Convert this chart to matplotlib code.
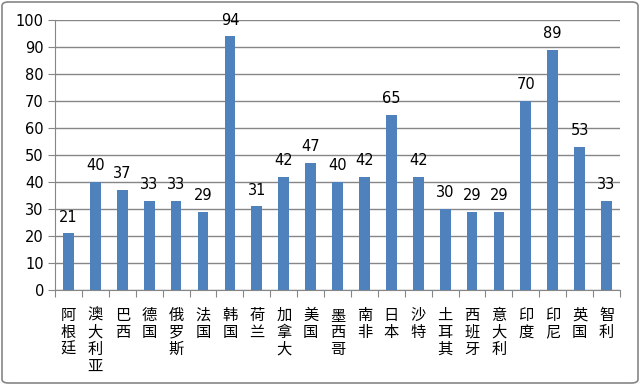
import matplotlib
matplotlib.use("Agg")
import matplotlib.pyplot as plt
from matplotlib.patches import FancyBboxPatch

plt.rcParams['font.family'] = ['DejaVu Sans', 'Noto Sans CJK SC']

categories = ["阿根廷", "澳大利亚", "巴西", "德国", "俄罗斯", "法国", "韩国", "荷兰", "加拿大", "美国",
              "墨西哥", "南非", "日本", "沙特", "土耳其", "西班牙", "意大利", "印度", "印尼", "英国", "智利"]
values = [21, 40, 37, 33, 33, 29, 94, 31, 42, 47, 40, 42, 65, 42, 30, 29, 29, 70, 89, 53, 33]
yticks = [0, 10, 20, 30, 40, 50, 60, 70, 80, 90, 100]

W, H = 640, 385
fig = plt.figure(figsize=(W/100, H/100), dpi=100)
ax = fig.add_axes([55/W, 1-290/H, (620-55)/W, (290-20)/H])

n = len(categories)
x = list(range(n))
ax.bar(x, values, width=0.4, color='#4F81BD', zorder=3)
for xi, v in zip(x, values):
    ax.text(xi, v + 3.2, str(v), ha='center', va='bottom', fontsize=10.5, color='#000000', zorder=4)

ax.set_xlim(-0.5, n - 0.5)
ax.set_ylim(0, 100)
ax.set_yticks(yticks)
ax.set_yticklabels([str(t) for t in yticks], fontsize=10.5)
ax.yaxis.grid(True, color='#868686', linewidth=1, zorder=0)
ax.set_axisbelow(True)
for s in ['top', 'right']:
    ax.spines[s].set_visible(False)
ax.spines['left'].set_color('#868686')
ax.spines['bottom'].set_color('#868686')
ax.tick_params(axis='y', length=5, color='#868686', pad=3)

ax.set_xticks([i - 0.5 for i in range(n + 1)], minor=False)
ax.set_xticklabels([])
ax.tick_params(axis='x', which='major', length=5, color='#868686')
ax.set_xticks(x, minor=True)
ax.set_xticklabels(["\n".join(c) for c in categories], minor=True,
                   fontsize=11, family=['Noto Sans CJK SC'], va='top', linespacing=1.0)
ax.tick_params(axis='x', which='minor', length=0, pad=12)

border = FancyBboxPatch((2/W, 2/H), 1-4/W, 1-4/H, boxstyle="round,pad=0,rounding_size=0.01",
                        transform=fig.transFigure, fill=False, edgecolor='#868686', linewidth=1.2)
fig.patches.append(border)

fig.savefig("out.png", dpi=100)
